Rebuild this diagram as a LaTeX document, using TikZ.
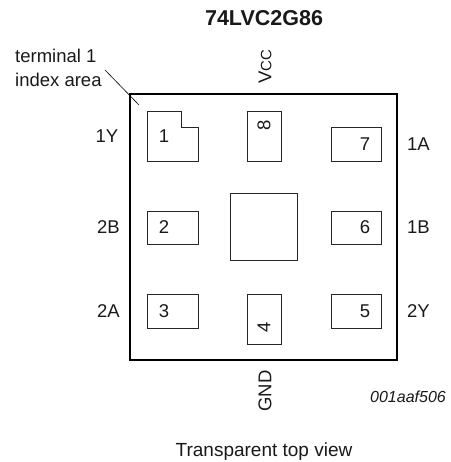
\documentclass[tikz,border=0pt]{standalone}
\usepackage{fontspec}
\setmainfont{Liberation Sans}
\tikzset{
  outline/.style={draw=black,line width=1.8pt,line join=miter},
  padbox/.style={draw=black!85,line width=0.8pt,line join=miter},
  lab/.style={inner sep=0pt,font=\fontsize{18.5}{21}\selectfont,text=black!90},
  leader/.style={draw=black,line width=0.6pt}
}
\begin{document}
\begin{tikzpicture}[x=1pt,y=-1pt]
\useasboundingbox (0,0) rectangle (450,462);
% package outline
\draw[outline] (130,94) rectangle (397,360);
% pads
\draw[padbox] (147.5,111) -- (181,111) -- (181,127.5) -- (198,127.5) -- (198,161) -- (147.5,161) -- cycle;
\draw[padbox] (147.5,211) rectangle (198,244);
\draw[padbox] (147.5,294) rectangle (198,328);
\draw[padbox] (247.5,294) rectangle (281,344);
\draw[padbox] (331,294) rectangle (381,328);
\draw[padbox] (331,211) rectangle (381,244);
\draw[padbox] (331,127.5) rectangle (381,161);
\draw[padbox] (247.5,111) rectangle (281,161);
\draw[padbox] (230,193) rectangle (297,260);
% pad numbers
\node[lab] (p1) at (164,136) {1};
\node[lab] (p2) at (164,227.5) {2};
\node[lab] (p3) at (164,311) {3};
\node[lab,rotate=90] (p4) at (264,327) {4};
\node[lab] (p5) at (365,311) {5};
\node[lab] (p6) at (365,227.5) {6};
\node[lab] (p7) at (365,144) {7};
\node[lab,rotate=90] (p8) at (264,125) {8};
% pin names
\node[lab,anchor=east] (n1y) at (118.5,136) {1Y};
\node[lab,anchor=east] (n2b) at (120,227.5) {2B};
\node[lab,anchor=east] (n2a) at (120,311) {2A};
\node[lab,anchor=west] (n1a) at (407,144) {1A};
\node[lab,anchor=west] (n1b) at (407,227.5) {1B};
\node[lab,anchor=west] (n2y) at (407,311) {2Y};
\node[lab,rotate=90] (vcc) at (265,67) {V\kern0pt{\fontsize{15}{17}\selectfont CC}};
\node[lab,rotate=90] (gnd) at (265,391) {GND};
% other texts
\node[lab,font=\fontsize{21.5}{24}\selectfont\bfseries] (title) at (264,18) {74LVC2G86};
\node[lab,anchor=west] (t1) at (15,55.5) {terminal 1};
\node[lab,anchor=west] (t2) at (15,79.5) {index area};
\node[lab,font=\fontsize{16}{18}\selectfont\itshape] (code) at (408,396.5) {001aaf506};
\node[lab,font=\fontsize{19}{21}\selectfont] (view) at (264,452) {Transparent top view};
% index leader
\coordinate (ls) at (105,70);
\coordinate (le) at (139,105);
\draw[leader] (ls) -- (le);
\end{tikzpicture}
\end{document}
